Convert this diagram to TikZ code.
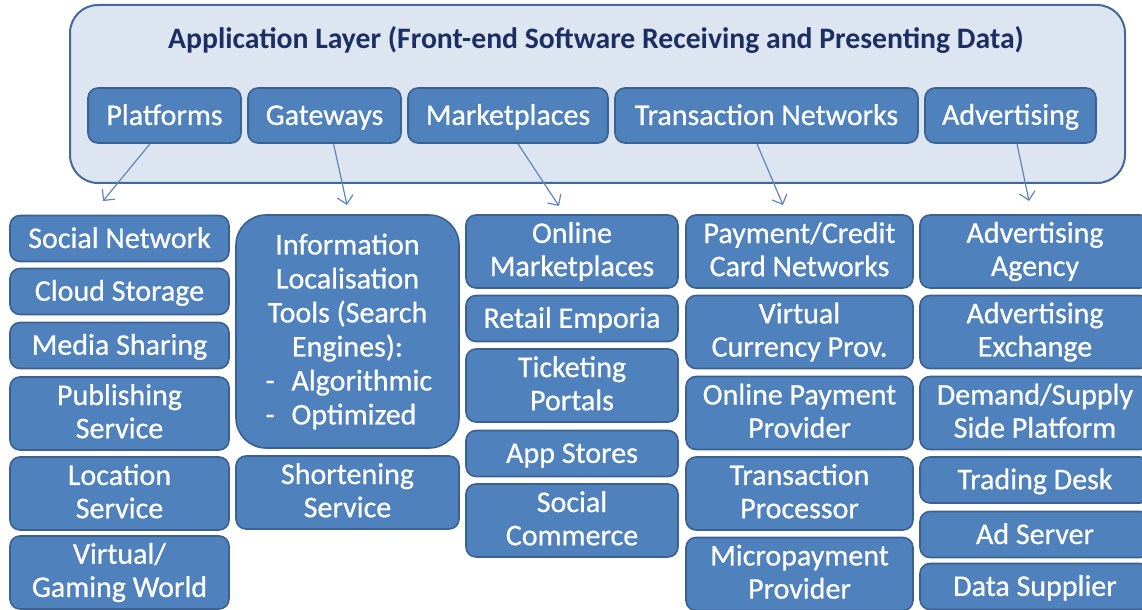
\documentclass[tikz,border=0pt]{standalone}
\usepackage{fontspec}
\setmainfont{Carlito}
\newfontfamily\boxfont[FakeBold=0.6]{Carlito}
\usepackage{tikz}
\usepackage{xcolor}
\usetikzlibrary{arrows.meta}

\definecolor{boxblue}{HTML}{4F81BD}
\definecolor{boxedge}{HTML}{3A6190}
\definecolor{layerfill}{HTML}{DDE5F0}
\definecolor{layeredge}{HTML}{45689A}
\definecolor{titlenavy}{HTML}{1B2F63}
\definecolor{arrowblue}{HTML}{5C86BE}

\newcommand\boxstrut{\rule[-2.3pt]{0pt}{14.1pt}}
\newcommand\dashitem[1]{\makebox[82pt][l]{\makebox[13pt][l]{-}#1}}

\tikzset{
  sub/.style={draw=boxedge, line width=0.8pt, fill=boxblue, rounded corners=5pt,
    text=white, align=center, inner sep=0pt,
    font=\boxfont\fontsize{15}{16.6}\selectfont,
    execute at begin node=\boxstrut, execute at end node=\boxstrut},
  one/.style={minimum height=23pt},
  two/.style={minimum height=36.5pt},
  colA/.style={sub, minimum width=109.5pt},
  colB/.style={sub, minimum width=111.5pt},
  colC/.style={sub, minimum width=106pt},
  colD/.style={sub, minimum width=113.5pt},
  colE/.style={sub, minimum width=115pt},
  head/.style={sub, minimum height=27.5pt},
  feed/.style={draw=arrowblue, line width=0.6pt, -{Straight Barb[length=4pt,width=8pt]}}
}

\begin{document}
\begin{tikzpicture}[x=0.5pt, y=-0.5pt]
  \clip (0,0) rectangle (1142,610);

  % application layer
  \node[draw=layeredge, line width=1pt, fill=layerfill, rounded corners=14pt,
    minimum width=527.5pt, minimum height=89pt, inner sep=0pt] (layer) at (597.5,94) {};
  \node[text=titlenavy, font=\fontsize{14.85}{17}\selectfont\bfseries] (title) at (596,40)
    {Application Layer (Front-end Software Receiving and Presenting Data)};

  \node[head, minimum width=76.5pt] (plat) at (164.5,115.5) {Platforms};
  \node[head, minimum width=76.5pt] (gate) at (324.5,115.5) {Gateways};
  \node[head, minimum width=100pt] (mark) at (508,115.5) {Marketplaces};
  \node[head, minimum width=151.5pt] (trans) at (766.5,115.5) {Transaction Networks};
  \node[head, minimum width=85.5pt] (adv) at (1010.5,115.5) {Advertising};

  % arrow ends
  \coordinate (platend) at (103,201);
  \coordinate (gateend) at (347,205);
  \coordinate (markend) at (559,206);
  \coordinate (transend) at (783,205);
  \coordinate (advend) at (1029,201);

  \draw[feed] ([xshift=-7.25pt]plat.south) -- (platend);
  \draw[feed] ([xshift=4.5pt]gate.south) -- (gateend);
  \draw[feed] ([xshift=5pt]mark.south) -- (markend);
  \draw[feed] ([xshift=-4.75pt]trans.south) -- (transend);
  \draw[feed] ([xshift=3.25pt]adv.south) -- (advend);

  % platforms
  \node[colA, one] (socnet) at (119.5,238.5) {Social Network};
  \node[colA, one] (cloud) at (119.5,291.5) {Cloud Storage};
  \node[colA, one] (media) at (119.5,345.5) {Media Sharing};
  \node[colA, two] (publish) at (119.5,413.5) {Publishing\\Service};
  \node[colA, two] (locate) at (119.5,493.5) {Location\\Service};
  \node[colA, two] (virtual) at (119.5,572.5) {Virtual/\\Gaming World};

  % gateways
  \node[colB, minimum height=116.5pt, rounded corners=15pt, font=\boxfont\fontsize{15}{17}\selectfont] (search) at (347.5,331.5)
    {Information\\Localisation\\Tools (Search\\Engines):\\\dashitem{Algorithmic}\\\dashitem{Optimized}};
  \node[colB, two] (short) at (347.5,492.5) {Shortening\\Service};

  % marketplaces
  \node[colC, two] (onmark) at (572,251.5) {Online\\Marketplaces};
  \node[colC, one] (retail) at (572,318.5) {Retail Emporia};
  \node[colC, two] (ticket) at (572,385.5) {Ticketing\\Portals};
  \node[colC, one] (apps) at (572,453.5) {App Stores};
  \node[colC, two] (soccom) at (572,520.5) {Social\\Commerce};

  % transaction networks
  \node[colD, two] (card) at (799.5,251.5) {Payment/Credit\\Card Networks};
  \node[colD, two] (vcur) at (799.5,332) {Virtual\\Currency Prov.};
  \node[colD, two] (onpay) at (799.5,413) {Online Payment\\Provider};
  \node[colD, two] (proc) at (799.5,493.5) {Transaction\\Processor};
  \node[colD, two] (micro) at (799.5,574) {Micropayment\\Provider};

  % advertising
  \node[colE, two] (agency) at (1035,251.5) {Advertising\\Agency};
  \node[colE, two] (exch) at (1035,332) {Advertising\\Exchange};
  \node[colE, two] (dsp) at (1035,413) {Demand/Supply\\Side Platform};
  \node[colE, one] (desk) at (1035,480) {Trading Desk};
  \node[colE, one] (adserv) at (1035,534.5) {Ad Server};
  \node[colE, one] (data) at (1035,586.5) {Data Supplier};
\end{tikzpicture}
\end{document}
